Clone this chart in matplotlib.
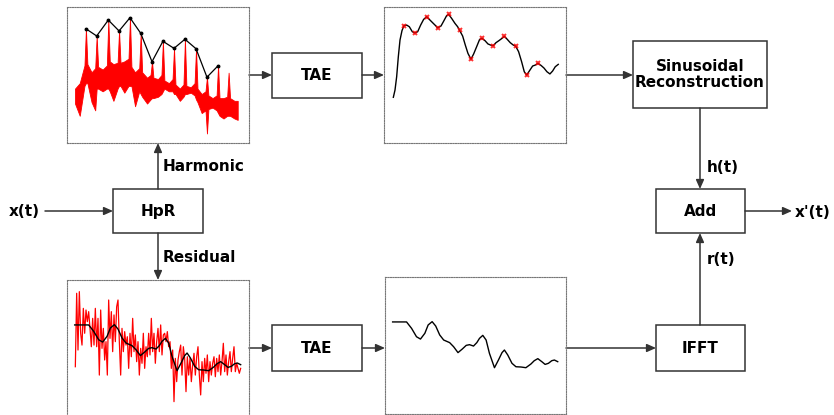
import matplotlib
matplotlib.use("Agg")
import matplotlib.pyplot as plt
from matplotlib.patches import Rectangle
import numpy as np

# harmonic peaks (bin, dB) -> envelope in the top panels
harm_f = [10.4, 16.3, 22.7, 28.6, 34.6, 40.5, 46.7, 52.7, 58.8, 64.8, 70.9, 76.9, 83.0]
harm_db = [84.0, 78.7, 90.4, 82.4, 92.1, 80.7, 59.8, 74.8, 69.6, 76.3, 69.3, 48.4, 56.8]

# harmonic magnitude spectrum (upper / lower edge of the red band)
spec_f = [4.4, 7.0, 9.6, 10.4, 11.2, 13.5, 15.5, 16.3, 17.1, 19.6, 21.9, 22.7, 23.5, 25.5, 27.8,
          28.6, 29.4, 31.5, 33.8, 34.6, 35.4, 37.4, 39.7, 40.5, 41.3, 44.0, 45.9, 46.7, 47.5, 50.0,
          51.9, 52.7, 53.5, 56.0, 58.0, 58.8, 59.6, 62.0, 64.0, 64.8, 65.6, 68.0, 70.1, 70.9, 71.7,
          74.0, 76.1, 76.9, 77.7, 80.0, 82.2, 83.0, 83.8, 86.0, 88.0, 88.8, 89.6, 92.0, 93.8]
spec_hi = [40, 44, 57, 84.0, 58, 52, 55, 78.7, 56, 54, 57, 90.4, 60, 58, 59,
           82.4, 59, 60, 62, 92.1, 56, 52, 55, 80.7, 52, 48, 50, 59.8, 48, 47,
           50, 74.8, 46, 44, 47, 69.6, 43, 40, 43, 76.3, 42, 41, 44, 69.3, 40,
           36, 38, 48.4, 35, 33, 35, 56.8, 33, 33, 34, 51.7, 33, 31, 31]
spec_lo = [29, 20, 42, 44, 44, 30, 24, 40, 40, 38, 40, 40, 38, 31, 40,
           42, 42, 37, 42, 42, 42, 27, 38, 36, 34, 29, 32, 33, 33, 34,
           36, 38, 40, 38, 38, 36, 36, 31, 34, 36, 36, 37, 35, 32, 30,
           22, 24, 7, 25, 26, 24, 22, 20, 18, 20, 20, 20, 18, 17]

# true amplitude envelope of the harmonics
tae_f = [4.63, 5.53, 6.43, 7.33, 8.24, 9.32, 10.4, 11.85, 13.29, 14.92, 16.3, 17.81, 19.43, 21.06,
         22.7, 24.49, 26.29, 27.74, 28.6, 30.45, 32.07, 33.52, 34.6, 36.23, 38.03, 39.48, 40.5,
         42.19, 43.63, 45.07, 46.7, 48.15, 49.77, 51.4, 52.7, 54.28, 55.91, 57.35, 58.8, 60.24,
         61.87, 63.49, 64.8, 66.38, 68.0, 69.63, 70.9, 72.52, 74.15, 75.59, 76.9, 78.66, 80.11,
         81.55, 83.0, 84.62, 86.24, 87.87, 89.49, 90.94, 92.38, 94.01]
tae_db = [32.4, 37.6, 47.2, 61.6, 73.6, 80.4, 84.0, 84.4, 83.2, 79.6, 78.7, 79.6, 84.4, 88.5,
          90.4, 88.0, 85.6, 83.7, 82.4, 83.7, 87.6, 91.2, 92.1, 89.2, 85.6, 83.2, 80.7,
          76.5, 70.0, 64.0, 59.8, 63.6, 68.8, 74.1, 74.8, 73.2, 70.8, 70.0, 69.6, 71.7,
          73.2, 74.8, 76.3, 74.1, 71.7, 70.0, 69.3, 65.2, 58.0, 50.8, 48.4, 52.0, 54.9,
          55.6, 56.8, 55.4, 53.5, 50.8, 49.2, 51.3, 54.4, 56.1]

# residual magnitude spectrum, one value per bin
res_db = [36.7, 90.3, 48.9, 91.5, 61.1, 52.5, 79.3, 61.1, 78.1, 69.6, 76.9, 64.7, 51.3, 72.0, 52.5,
          79.3, 51.3, 72.0, 30.6, 78.1, 50.1, 64.7, 41.6, 55.0, 30.6, 85.4, 57.4, 76.9, 47.7, 74.5,
          55.0, 80.5, 85.4, 55.0, 30.6, 64.7, 47.7, 62.3, 52.5, 58.6, 35.5, 61.1, 44.0, 72.0, 47.7,
          59.9, 40.4, 55.0, 30.6, 50.1, 39.2, 61.1, 35.5, 51.3, 44.0, 61.1, 45.3, 72.0, 47.7, 61.1,
          39.2, 55.0, 64.7, 47.7, 67.2, 45.3, 59.9, 61.1, 55.0, 62.3, 51.3, 55.0, 35.5, 48.9, 11.2,
          42.8, 25.8, 41.6, 47.7, 52.5, 30.6, 51.3, 42.8, 18.5, 44.0, 30.6, 42.8, 25.8, 38.0, 46.5,
          30.6, 44.0, 51.3, 30.6, 16.1, 40.4, 25.8, 42.8, 31.9, 45.3, 25.8, 40.4, 30.6, 39.2, 44.0,
          29.4, 42.8, 33.1, 45.3, 30.6, 40.4, 53.8, 33.1, 45.3, 30.6, 40.4, 47.7, 33.1, 42.8, 51.3,
          33.1, 39.2, 35.5, 31.9, 35.5]

# smoothed envelope of the residual
renv_bin = [-0.5, 10.0, 13.8, 17.5, 20.5, 23.8, 26.3, 29.3, 32.0, 35.0, 38.0, 42.5, 45.5, 48.8,
            52.0, 55.0, 57.5, 60.5, 63.0, 65.0, 67.5, 70.0, 72.5, 76.3, 79.3, 82.0, 83.8, 86.3,
            89.5, 92.5, 96.3, 100.0, 103.8, 106.3, 109.0, 112.0, 114.5, 117.0, 119.5, 121.5, 124.0]
renv_db = [67.2, 67.2, 62.5, 56.4, 54.7, 58.9, 65.0, 67.4, 64.2, 57.7, 54.0, 52.1, 49.1, 44.8,
           47.4, 50.1, 50.6, 49.6, 52.1, 55.2, 57.4, 54.0, 44.3, 33.8, 39.4, 44.8, 46.7, 43.1,
           37.0, 34.5, 34.3, 33.8, 36.5, 38.9, 40.4, 38.2, 36.2, 37.0, 38.9, 39.4, 38.2]

W, H = 834, 415
LC = "#333333"
fig = plt.figure(figsize=(W / 100, H / 100), dpi=100)
ax = fig.add_axes([0, 0, 1, 1])
ax.set_xlim(0, W)
ax.set_ylim(H, 0)
ax.axis("off")


def panel(x0, y0, x1, y1):
    a = fig.add_axes([x0 / W, 1 - y1 / H, (x1 - x0) / W, (y1 - y0) / H])
    a.set_xticks([])
    a.set_yticks([])
    a.patch.set_alpha(0)
    for s in a.spines.values():
        s.set_linestyle((0, (1, 1.2)))
        s.set_linewidth(0.8)
        s.set_color("#777777")
    return a


def box(x0, y0, x1, y1, text):
    ax.add_patch(Rectangle((x0, y0), x1 - x0, y1 - y0, fill=False, ec=LC, lw=1.1))
    ax.text((x0 + x1) / 2, (y0 + y1) / 2, text, ha="center", va="center",
            fontsize=11, fontweight="bold", linespacing=1.05)


def arrow(x0, y0, x1, y1):
    ax.annotate("", xy=(x1, y1), xytext=(x0, y0),
                arrowprops=dict(arrowstyle="-|>,head_length=0.45,head_width=0.2",
                                mutation_scale=12, color=LC, lw=1.1,
                                shrinkA=0, shrinkB=0))


# panels
p1 = panel(67, 7, 249, 143)
p1.fill_between(spec_f, spec_lo, spec_hi, color="red", lw=0.6, ec="red")
p1.plot(harm_f, harm_db, color="black", lw=0.9, marker="o", ms=1.8)
p1.set_xlim(0, 100)
p1.set_ylim(0, 100)

p2 = panel(384, 7, 566, 143)
p2.plot(tae_f, tae_db, color="black", lw=1.0)
p2.plot(harm_f, harm_db, ls="none", marker="x", ms=3.5, mew=1.4, color="red", alpha=0.8)
p2.set_xlim(-0.43, 98.2)
p2.set_ylim(-0.5, 97.4)

p3 = panel(67, 280, 249, 417)
p3.plot(np.arange(len(res_db)), res_db, color="red", lw=0.9)
p3.plot(renv_bin, renv_db, color="black", lw=1.0)
p3.set_xlim(-6.25, 130.25)
p3.set_ylim(0, 100)

p4 = panel(385, 277, 566, 414)
p4.plot(renv_bin, renv_db, color="black", lw=1.0)
p4.set_xlim(-6.25, 130.25)
p4.set_ylim(0, 100)

# blocks
box(113, 189, 203, 233, "HpR")
box(272, 53, 362, 98, "TAE")
box(272, 325, 362, 371, "TAE")
box(633, 41, 767, 108, "Sinusoidal\nReconstruction")
box(656, 189, 745, 233, "Add")
box(656, 325, 745, 371, "IFFT")

# connections
arrow(45, 211, 113, 211)
arrow(158, 189, 158, 143)
arrow(158, 233, 158, 280)
arrow(249, 75, 272, 75)
arrow(362, 75, 384, 75)
arrow(566, 75, 633, 75)
arrow(700, 108, 700, 189)
arrow(745, 211, 792, 211)
arrow(700, 325, 700, 233)
arrow(249, 348, 272, 348)
arrow(362, 348, 385, 348)
arrow(566, 348, 656, 348)

lab = dict(fontsize=11, fontweight="bold", va="center")
ax.text(24, 211, "x(t)", ha="center", **lab)
ax.text(163, 166, "Harmonic", ha="left", **lab)
ax.text(163, 257, "Residual", ha="left", **lab)
ax.text(707, 167, "h(t)", ha="left", **lab)
ax.text(707, 259, "r(t)", ha="left", **lab)
ax.text(795, 212, "x'(t)", ha="left", **lab)

plt.savefig("out.png", dpi=100)
plt.close()
